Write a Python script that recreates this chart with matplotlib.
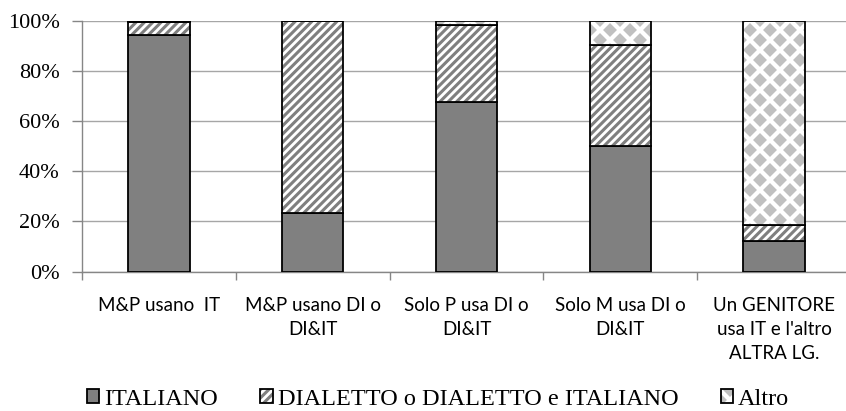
import numpy as np
import matplotlib
matplotlib.use("Agg")
import matplotlib.pyplot as plt
from matplotlib import hatch as mhatch
from matplotlib.path import Path
from matplotlib.colors import to_rgba

# ---- data ----
categories = ["M&P usano  IT", "M&P usano DI o\nDI&IT", "Solo P usa DI o\nDI&IT",
              "Solo M usa DI o\nDI&IT", "Un GENITORE\nusa IT e l'altro\nALTRA LG."]
italiano = [94.5, 23.5, 67.7, 50.2, 12.1]
dialetto = [4.9, 76.2, 30.6, 40.1, 6.6]
altro = [0.6, 0.3, 1.7, 9.7, 81.3]
series_names = ["ITALIANO", "DIALETTO o DIALETTO e ITALIANO", "Altro"]
yticks = [0, 20, 40, 60, 80, 100]


# ---- custom diamond hatch (replaces the '*' pattern) ----
class Diamonds(mhatch.HatchPatternBase):
    per_tile = 5
    radius = 0.24

    def __init__(self, hatch, density):
        self.count = hatch.count('*')
        n = self.per_tile
        if self.count == 0:
            self.num_vertices = 0
            return
        self.n_shapes = (n + 1) * (n + 1) + n * n
        self.num_vertices = self.n_shapes * 5

    def set_vertices_and_codes(self, vertices, codes):
        n = self.per_tile
        p = 1.0 / n
        r = self.radius * p
        shape = np.array([[r, 0], [0, r], [-r, 0], [0, -r], [r, 0]])
        scodes = [Path.MOVETO, Path.LINETO, Path.LINETO, Path.LINETO, Path.CLOSEPOLY]
        centers = [(i * p, j * p) for i in range(n + 1) for j in range(n + 1)]
        centers += [((i + 0.5) * p, (j + 0.5) * p) for i in range(n) for j in range(n)]
        vs, cs = [], []
        for c in centers:
            vs.append(shape + np.array(c))
            cs.extend(scodes)
        vertices[:] = np.concatenate(vs)
        codes[:] = np.array(cs, dtype=codes.dtype)


mhatch._hatch_types = [t for t in mhatch._hatch_types if t is not mhatch.Stars] + [Diamonds]

plt.rcParams['hatch.linewidth'] = 2.2

fig = plt.figure(figsize=(8.46, 4.11), dpi=100)
W, H = 846, 411
ax = fig.add_axes([82 / W, (H - 271.7) / H, 769 / W, (271.7 - 20.7) / H])

x = np.arange(len(categories))
bw = 0.4
edge_lw = 1.3
b1 = ax.bar(x, italiano, bw, color="#808080", edgecolor="black", linewidth=edge_lw,
            label=series_names[0], zorder=3)
b2 = ax.bar(x, dialetto, bw, bottom=italiano, color="white", edgecolor="black",
            linewidth=edge_lw, hatch="////", label=series_names[1], zorder=3)
bottom3 = np.array(italiano) + np.array(dialetto)
b3 = ax.bar(x, altro, bw, bottom=bottom3, color="white", edgecolor="black",
            linewidth=edge_lw, hatch="*", label=series_names[2], zorder=3)
for p in b2.patches:
    p._hatch_color = to_rgba("#7f7f7f")
for p in b3.patches:
    p._hatch_color = to_rgba("#c0c0c0")

ax.set_xlim(-0.5, len(categories) - 0.5)
ax.set_ylim(0, 100)
ax.set_yticks(yticks)
ax.set_yticklabels([f"{v}%" for v in yticks], fontfamily="Liberation Serif", fontsize=16)
ax.set_xticks(np.arange(len(categories) + 1) - 0.5, minor=False)
ax.set_xticklabels([])
ax.set_xticks(x, minor=True)
ax.set_xticklabels(categories, minor=True, fontfamily="Lato", fontsize=13.5,
                   linespacing=1.5, va="top", ha="center")
ax.tick_params(axis="x", which="minor", length=0, pad=18)
ax.tick_params(axis="x", which="major", length=6, width=1, color="#868686", direction="out")
ax.tick_params(axis="y", length=7, width=1, color="#868686", pad=9, direction="out")

ax.grid(axis="y", color="#a6a6a6", linewidth=1.0, zorder=0)
ax.set_axisbelow(True)
for s in ["top", "right"]:
    ax.spines[s].set_visible(False)
for s in ["left", "bottom"]:
    ax.spines[s].set_color("#868686")
    ax.spines[s].set_linewidth(1.0)

fig.legend(handles=[b1, b2, b3], loc="center", bbox_to_anchor=(438 / W, (H - 399) / H),
           ncol=3, frameon=False, prop={"family": "Liberation Serif", "size": 17.5},
           handlelength=0.5, handleheight=0.5, handletextpad=0.2, columnspacing=1.75,
           borderpad=0, borderaxespad=0)

fig.savefig("out.png", dpi=100)
